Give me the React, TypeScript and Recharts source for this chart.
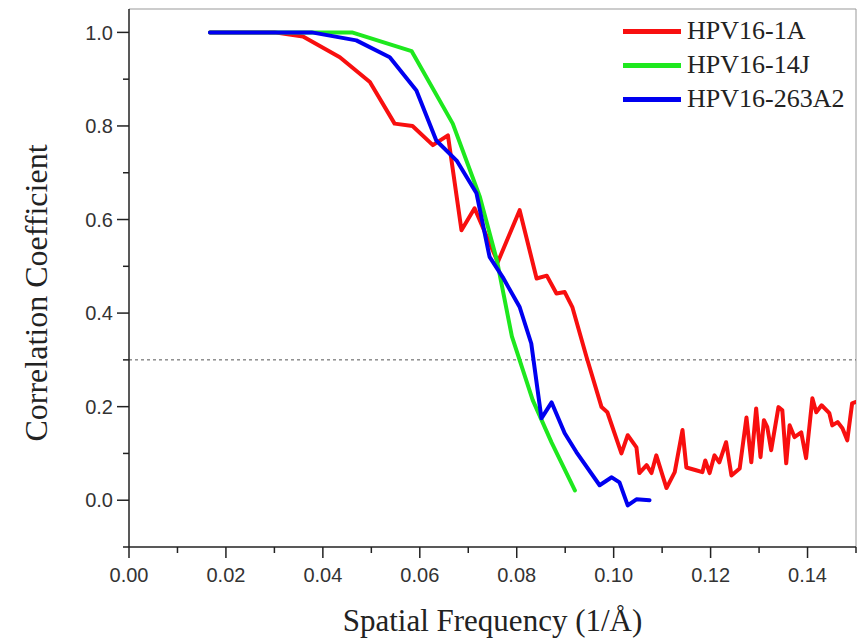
import { LineChart, Line, XAxis, YAxis, ReferenceLine, Label } from 'recharts';

// Fourier shell correlation curves
const redX = [0.0167, 0.03, 0.0359, 0.0435, 0.0497, 0.0548, 0.0585, 0.0627, 0.0658, 0.0686, 0.0713, 0.0761, 0.0806, 0.0841, 0.0862, 0.0882, 0.0899, 0.0915, 0.0944, 0.0975, 0.0987, 0.1016, 0.1029, 0.1047, 0.1053, 0.1068, 0.1078, 0.1088, 0.1109, 0.1126, 0.1142, 0.115, 0.117, 0.1183, 0.1189, 0.1198, 0.1208, 0.1218, 0.1232, 0.1243, 0.126, 0.1274, 0.1284, 0.1294, 0.1303, 0.131, 0.1317, 0.1325, 0.134, 0.1348, 0.1356, 0.1363, 0.1373, 0.1387, 0.1397, 0.141, 0.1418, 0.1429, 0.1445, 0.1451, 0.1462, 0.1472, 0.1482, 0.1492, 0.15];
const redY = [1.0, 1.0, 0.991, 0.947, 0.894, 0.805, 0.8, 0.759, 0.78, 0.577, 0.624, 0.509, 0.62, 0.474, 0.48, 0.442, 0.445, 0.412, 0.306, 0.199, 0.188, 0.1, 0.139, 0.113, 0.058, 0.075, 0.058, 0.096, 0.026, 0.06, 0.15, 0.07, 0.064, 0.06, 0.085, 0.058, 0.096, 0.081, 0.124, 0.053, 0.068, 0.177, 0.081, 0.196, 0.092, 0.171, 0.156, 0.107, 0.199, 0.192, 0.079, 0.16, 0.135, 0.145, 0.09, 0.218, 0.188, 0.203, 0.186, 0.16, 0.167, 0.154, 0.128, 0.207, 0.21];

const greenX = [0.0167, 0.03, 0.04, 0.046, 0.0583, 0.0668, 0.0724, 0.0759, 0.079, 0.0833, 0.0872, 0.092];
const greenY = [1.0, 1.0, 1.0, 1.0, 0.96, 0.805, 0.648, 0.513, 0.35, 0.214, 0.123, 0.021];

const blueX = [0.0167, 0.03, 0.0377, 0.0469, 0.0538, 0.0593, 0.0634, 0.0676, 0.0717, 0.0744, 0.0771, 0.0806, 0.083, 0.0851, 0.0872, 0.0899, 0.0923, 0.0971, 0.0996, 0.1012, 0.1029, 0.1047, 0.1074];
const blueY = [1.0, 1.0, 1.0, 0.983, 0.947, 0.876, 0.769, 0.726, 0.656, 0.52, 0.477, 0.413, 0.335, 0.175, 0.209, 0.143, 0.103, 0.032, 0.049, 0.038, -0.011, 0.002, 0.0];

const xTicks = [0, 0.01, 0.02, 0.03, 0.04, 0.05, 0.06, 0.07, 0.08, 0.09, 0.1, 0.11, 0.12, 0.13, 0.14, 0.15];
const yTicks = [-0.1, 0, 0.1, 0.2, 0.3, 0.4, 0.5, 0.6, 0.7, 0.8, 0.9, 1.0];
const threshold = 0.3;

const series = [
  { name: 'HPV16-1A', color: '#f80f0f', xs: redX, ys: redY },
  { name: 'HPV16-14J', color: '#1ee81e', xs: greenX, ys: greenY },
  { name: 'HPV16-263A2', color: '#0000f0', xs: blueX, ys: blueY },
];

const toPoints = (xs: number[], ys: number[]) => xs.map((x, i) => ({ x, y: ys[i] }));

const sans = '"Liberation Sans", Arial, sans-serif';
const serif = '"Liberation Serif", "Times New Roman", serif';
const axisColor = '#222';

function XTick(props: any) {
  const { x, y, payload } = props;
  const major = Math.round(payload.value * 100) % 2 === 0;
  return (
    <g>
      <line x1={x} x2={x} y1={y} y2={y + (major ? 11 : 6)} stroke={axisColor} strokeWidth={1.5} />
      {major && (
        <text x={x} y={y + 35} textAnchor="middle" fontFamily={sans} fontSize={20} fill="#333">
          {payload.value.toFixed(2)}
        </text>
      )}
    </g>
  );
}

function YTick(props: any) {
  const { x, y, payload } = props;
  const v = payload.value;
  const major = v >= 0 && Math.round(v * 10) % 2 === 0;
  return (
    <g>
      <line x1={x - (major ? 12 : 6)} x2={x} y1={y} y2={y} stroke={axisColor} strokeWidth={1.5} />
      {major && (
        <text x={x - 16} y={y} dy="0.36em" textAnchor="end" fontFamily={sans} fontSize={20} fill="#333">
          {v.toFixed(1)}
        </text>
      )}
    </g>
  );
}

function LegendBox() {
  return (
    <div
      style={{
        position: 'absolute',
        top: 14,
        left: 623,
        fontFamily: serif,
        fontSize: 26,
        color: '#222',
        lineHeight: '34px',
      }}
    >
      {series.map((s) => (
        <div key={s.name} style={{ display: 'flex', alignItems: 'center' }}>
          <span style={{ display: 'inline-block', width: 58, height: 5, background: s.color, marginRight: 6 }} />
          <span>{s.name}</span>
        </div>
      ))}
    </div>
  );
}

export default function App() {
  return (
    <div style={{ position: 'absolute', left: 0, top: 0, width: 857, height: 642, background: '#fff' }}>
      <LineChart width={857} height={642} margin={{ top: 9, right: 1, bottom: 0, left: 0 }}>
        <XAxis
          type="number"
          dataKey="x"
          domain={[0, 0.15]}
          ticks={xTicks}
          interval={0}
          tickSize={0}
          tickMargin={0}
          tick={<XTick />}
          height={95}
          stroke={axisColor}
          strokeWidth={1.5}
          allowDataOverflow
        >
          <Label
            content={(p: any) => {
              const vb = p.viewBox;
              return (
                <text x={vb.x + vb.width / 2} y={631} textAnchor="middle" fontFamily={serif} fontSize={31} fill="#222">
                  Spatial Frequency (1/Å)
                </text>
              );
            }}
          />
        </XAxis>
        <YAxis
          type="number"
          dataKey="y"
          domain={[-0.1, 1.05]}
          ticks={yTicks}
          interval={0}
          tickSize={0}
          tickMargin={0}
          tick={<YTick />}
          width={129}
          stroke={axisColor}
          strokeWidth={1.5}
          allowDataOverflow
        >
          <Label
            content={(p: any) => {
              const vb = p.viewBox;
              const cy = vb.y + vb.height / 2 + 15;
              return (
                <text x={47} y={cy} transform={`rotate(-90 47 ${cy})`} textAnchor="middle" fontFamily={serif} fontSize={32} fill="#222">
                  Correlation Coefficient
                </text>
              );
            }}
          />
        </YAxis>
        <ReferenceLine y={1.05} stroke="#999" strokeWidth={1} />
        <ReferenceLine x={0.15} stroke="#999" strokeWidth={1} />
        <ReferenceLine y={threshold} stroke="#555" strokeWidth={1} strokeDasharray="3 3" />
        {series.map((s) => (
          <Line
            key={s.name}
            data={toPoints(s.xs, s.ys)}
            dataKey="y"
            name={s.name}
            type="linear"
            stroke={s.color}
            strokeWidth={4}
            strokeLinejoin="round"
            strokeLinecap="round"
            dot={false}
            activeDot={false}
            isAnimationActive={false}
          />
        ))}
      </LineChart>
      <LegendBox />
    </div>
  );
}
